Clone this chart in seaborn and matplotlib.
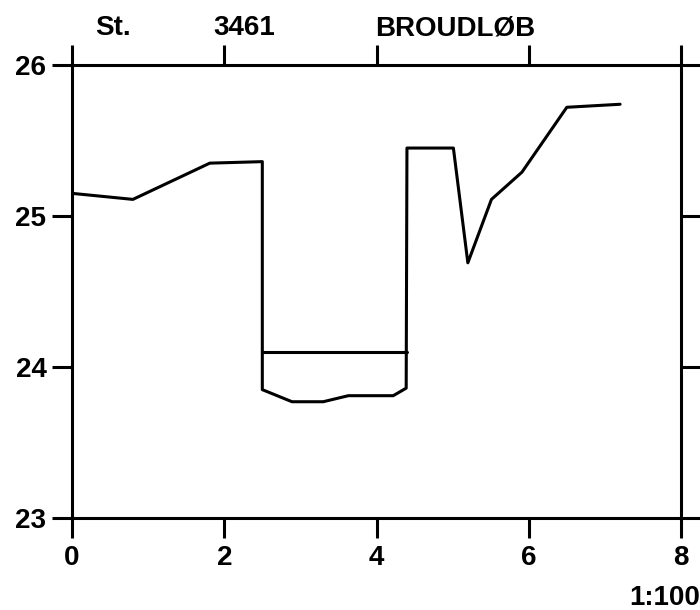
"""Station profile 3461 BROUDLØB, redrawn with seaborn."""
import matplotlib
matplotlib.use("Agg")
import matplotlib.pyplot as plt
import pandas as pd
import seaborn as sns

# Profile line (distance, level)
profile_x = [0.0, 0.80, 1.81, 2.50, 2.50, 2.89, 3.30, 3.63, 4.22, 4.39,
             4.40, 5.01, 5.20, 5.51, 5.91, 6.50, 7.20]
profile_y = [25.15, 25.11, 25.35, 25.36, 23.85, 23.77, 23.77, 23.81, 23.81, 23.86,
             25.45, 25.45, 24.69, 25.11, 25.29, 25.72, 25.74]

# Horizontal level line across the culvert
level_x = [2.50, 4.40]
level_y = [24.10, 24.10]

x_ticks = [0, 2, 4, 6, 8]
y_ticks = [23, 24, 25, 26]

header = ["St.", "3461", "BROUDLØB"]
scale_label = "1:100"

sns.set_style("ticks")
plt.rcParams["font.family"] = ["Liberation Sans", "DejaVu Sans"]
plt.rcParams["text.color"] = "black"
plt.rcParams["xtick.color"] = "black"
plt.rcParams["ytick.color"] = "black"
plt.rcParams["font.weight"] = "bold"

fig = plt.figure(figsize=(7, 6.1), dpi=100)
ax = fig.add_axes([72 / 700, 1 - 518 / 610, 609 / 700, 453 / 610])

lw = 2.2
sns.lineplot(data=pd.DataFrame({"x": profile_x, "y": profile_y}),
             x="x", y="y", sort=False, estimator=None, color="black",
             linewidth=lw, ax=ax)
sns.lineplot(data=pd.DataFrame({"x": level_x, "y": level_y}),
             x="x", y="y", sort=False, estimator=None, color="black",
             linewidth=lw, ax=ax)

ax.set_xlim(0, 8)
ax.set_ylim(23, 26)
ax.set_xticks(x_ticks)
ax.set_yticks(y_ticks)
ax.set_xlabel("")
ax.set_ylabel("")

for spine in ax.spines.values():
    spine.set_linewidth(lw)
    spine.set_color("black")

ax.tick_params(axis="both", which="major", direction="out", length=14.4,
               width=lw, color="black", labelcolor="black", labelsize=20,
               top=True, right=True, labeltop=False, labelright=False)
ax.tick_params(axis="x", pad=5)
ax.tick_params(axis="y", pad=4)
for lab in ax.get_xticklabels() + ax.get_yticklabels():
    lab.set_fontweight("bold")

# Header text above the frame
for label, left in zip(header, [95, 213, 375]):
    fig.text(left / 700, 1 - 35 / 610, label, fontsize=20, ha="left",
             va="baseline", fontweight="bold")
fig.text(629 / 700, 1 - 605 / 610, scale_label, fontsize=20, ha="left",
         va="baseline", fontweight="bold")

fig.savefig("out.png", dpi=100)
